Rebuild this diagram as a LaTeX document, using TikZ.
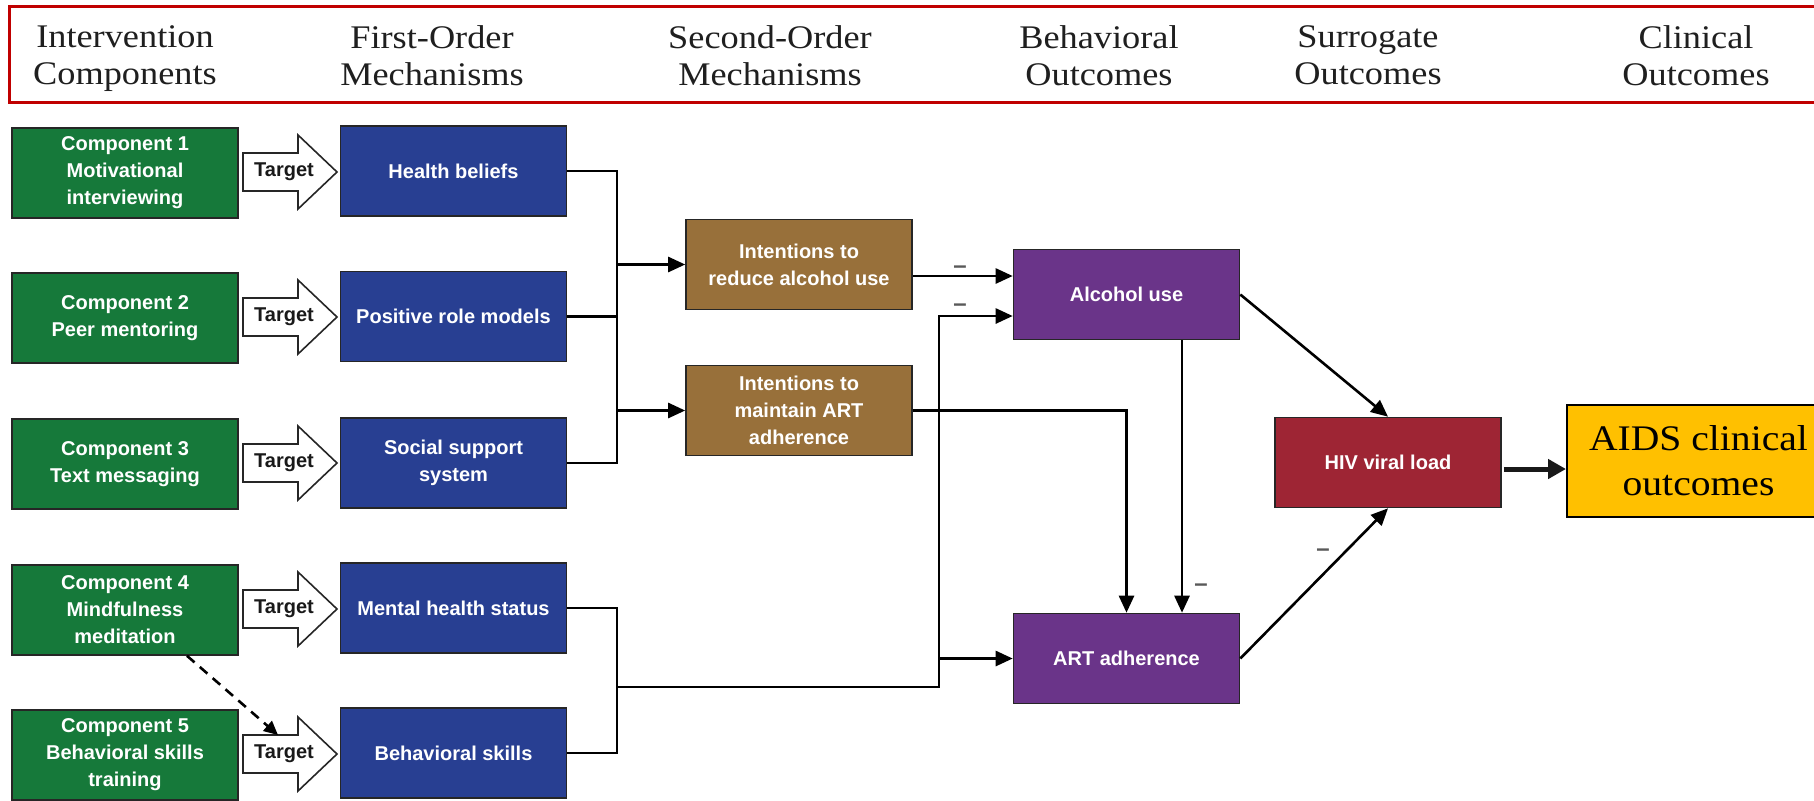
\documentclass[tikz,border=0pt]{standalone}
\usepackage{fontspec}
\setmainfont{Liberation Serif}
\newfontfamily\headfont[FakeStretch=1.1]{Liberation Serif}
\newfontfamily\boxfont{Liberation Sans}
\usetikzlibrary{arrows.meta,calc}

\definecolor{hdrred}{HTML}{C00000}
\definecolor{compgreen}{HTML}{16793A}
\definecolor{mechblue}{HTML}{283F92}
\definecolor{intbrown}{HTML}{98703A}
\definecolor{behpurple}{HTML}{6A3489}
\definecolor{hivred}{HTML}{9E2534}
\definecolor{aidsgold}{HTML}{FFC000}

\tikzset{
  colhead/.style={font=\headfont\fontsize{16.5}{18.5}\selectfont, align=center, text=black!88,
    text depth=0pt},
  stage/.style={draw=black!85, line width=0.8pt, minimum width=113pt, minimum height=45pt,
    inner sep=1pt, align=center, text=white, font=\boxfont\bfseries\fontsize{10}{13.5}\selectfont},
  comp/.style={stage, fill=compgreen},
  mech/.style={stage, fill=mechblue},
  intent/.style={stage, fill=intbrown},
  behav/.style={stage, fill=behpurple},
  viral/.style={stage, fill=hivred},
  clinical/.style={draw=black, line width=1pt, fill=aidsgold, minimum width=131.5pt,
    minimum height=56pt, align=center, font=\headfont\fontsize{18}{22.5}\selectfont},
  tgshape/.style={draw=black!85, line width=0.8pt, fill=white, line join=miter},
  tgtext/.style={font=\boxfont\bfseries\fontsize{10}{12}\selectfont, text=black!90, inner sep=0pt},
  conn/.style={draw=black, line width=1.3pt},
  arr/.style={conn, -{Triangle[length=8.5pt,width=7.5pt]}},
  bigarr/.style={draw=black!90, line width=2.5pt, -{Triangle[length=9pt,width=9.5pt]}},
  hintarr/.style={draw=black, line width=1.3pt, dash pattern=on 5pt off 3.5pt,
    -{Triangle[length=7pt,width=6.5pt]}},
  neg/.style={font=\boxfont\bfseries\fontsize{12}{14}\selectfont, text=black!65, inner sep=0pt},
}

% block arrow labelled "Target" between a component and its mechanism
\newcommand\tgarrow[2]{%
  \draw[tgshape] (243,#2-19) -- (298,#2-19) -- (298,#2-37) -- (337,#2)
    -- (298,#2+37) -- (298,#2+19) -- (243,#2+19) -- cycle;
  \node[tgtext] (#1) at (284,#2) {Target};
  \coordinate (#1-top) at (278,#2-19);
}

\begin{document}
\begin{tikzpicture}[x=0.5pt,y=-0.5pt]
\clip (0,0) rectangle (1814,800);
\fill[white] (0,0) rectangle (1814,800);

% column headings
\draw[hdrred, line width=1.5pt] (9,6) rectangle (1850,102);
\node[colhead] (h1) at (125,55.5) {Intervention\\Components};
\node[colhead] (h2) at (432,55.5) {First-Order\\Mechanisms};
\node[colhead] (h3) at (770,55.5) {Second-Order\\Mechanisms};
\node[colhead] (h4) at (1099,55.5) {Behavioral\\Outcomes};
\node[colhead] (h5) at (1368,55.5) {Surrogate\\Outcomes};
\node[colhead] (h6) at (1696,55.5) {Clinical\\Outcomes};

% intervention components
\node[comp] (c1) at (125,173) {Component 1\\Motivational\\interviewing};
\node[comp] (c2) at (125,318) {Component 2\\Peer mentoring};
\node[comp] (c3) at (125,464) {Component 3\\Text messaging};
\node[comp] (c4) at (125,610) {Component 4\\Mindfulness\\meditation};
\node[comp] (c5) at (125,755) {Component 5\\Behavioral skills\\training};

% target arrows
\tgarrow{tg1}{172}
\tgarrow{tg2}{317}
\tgarrow{tg3}{463}
\tgarrow{tg4}{609}
\tgarrow{tg5}{754}

% first-order mechanisms
\node[mech] (hb) at (453.5,171) {Health beliefs};
\node[mech] (pr) at (453.5,316.5) {Positive role models};
\node[mech] (ss) at (453.5,463) {Social support\\system};
\node[mech] (mh) at (453.5,608) {Mental health status};
\node[mech] (bs) at (453.5,753) {Behavioral skills};

% second-order mechanisms
\node[intent] (ir) at (799,264.5) {Intentions to\\reduce alcohol use};
\node[intent] (im) at (799,410.5) {Intentions to\\maintain ART\\adherence};

% behavioural outcomes
\node[behav] (al) at (1126.5,294.5) {Alcohol use};
\node[behav] (ad) at (1126.5,658.5) {ART adherence};

% surrogate and clinical outcomes
\node[viral] (hiv) at (1388,462.5) {HIV viral load};
\node[clinical] (aids) at (1698.5,461) {AIDS clinical\\outcomes};

% upper bracket: beliefs, role models, support -> intentions
\coordinate (brk) at (617,0);
\draw[conn] (hb.east) -- (hb.east -| brk) |- (ss.east);
\draw[conn] (pr.east) -- (pr.east -| brk);
\draw[arr] (brk |- ir.west) -- (ir.west);
\draw[arr] (brk |- im.west) -- (im.west);

% lower bracket: mental health, skills -> alcohol use and adherence
\draw[conn] (mh.east) -- (mh.east -| brk) |- (bs.east);
\coordinate (feed) at (939,687);
\draw[arr] (brk |- feed) -- (feed) |- ([yshift=-10.75pt]al.west);
\draw[arr] (feed |- ad.west) -- (ad.west);

% intentions -> behaviours
\coordinate (ir-out) at ([yshift=-5.75pt]ir.east);
\draw[arr] (ir-out) -- (ir-out -| al.west);
\draw[arr] (im.east) -| (ad.north);
\draw[arr] ([xshift=27.75pt]al.south) -- ([xshift=27.75pt]ad.north);

% behaviours -> viral load -> clinical outcomes
\draw[arr] (al.east) -- (hiv.north);
\draw[arr] (ad.east) -- (hiv.south);
\coordinate (hiv-out) at ([yshift=-3.25pt]hiv.east);
\draw[bigarr] ([xshift=1pt]hiv-out) -- (hiv-out -| aids.west);

% mindfulness supports skills training
\draw[hintarr] ([xshift=31pt]c4.south) -- (tg5-top);

% negative associations
\node[neg] (n1) at (960,270) {–};
\node[neg] (n2) at (960,308) {–};
\node[neg] (n3) at (1201,588) {–};
\node[neg] (n4) at (1323,553) {–};
\end{tikzpicture}
\end{document}
